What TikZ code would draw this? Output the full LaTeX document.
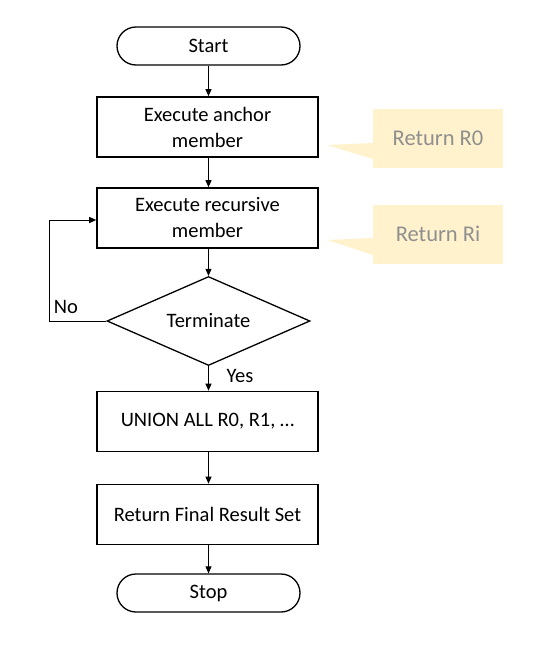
\documentclass[tikz,border=0pt]{standalone}
\usepackage{fontspec}
\setmainfont{Carlito}
\usetikzlibrary{arrows.meta,shapes.geometric}
\definecolor{callfill}{HTML}{FFF2CC}
\definecolor{calltext}{HTML}{8F8F8F}
\begin{document}
\begin{tikzpicture}[x=1pt,y=-1pt,
  font=\fontsize{20.5}{26}\selectfont,
  procbox/.style={draw=black,line width=1.6pt,minimum width=221pt,minimum height=60pt,align=center,inner sep=0pt},
  termbox/.style={draw=black,line width=1.3pt,rounded corners=19pt,minimum width=183pt,minimum height=38pt,inner sep=0pt},
  decbox/.style={draw=black,line width=1.3pt,diamond,aspect=2.28,minimum width=203pt,minimum height=89pt,inner sep=0pt},
  conn/.style={line width=0.9pt,-{Triangle[length=7pt,width=6pt]}},
  callout/.style={fill=callfill,text=calltext,font=\fontsize{22.5}{27}\selectfont,minimum width=130pt,minimum height=59pt,inner sep=0pt}]
\useasboundingbox (0,0) rectangle (538,646);
\node[termbox] (start) at (208.5,46) {Start};
\node[procbox] (anchor) at (207.5,127) {Execute anchor\\member};
\node[procbox] (rec) at (207.5,218) {Execute recursive\\member};
\node[decbox] (term) at (208.5,321) {Terminate};
\node[procbox] (union) at (207.5,421.5) {UNION ALL R0, R1, …};
\node[procbox] (final) at (207.5,514.5) {Return Final Result Set};
\node[termbox] (stop) at (208.5,593) {Stop};
\draw[conn] (start.south) -- (start.south |- anchor.north);
\draw[conn] (anchor.south -| start.south) -- (start.south |- rec.north);
\draw[conn] (rec.south -| term.north) -- (term.north);
\draw[conn] (term.south) -- (term.south |- union.north);
\draw[conn] (union.south -| term.south) -- (term.south |- final.north);
\draw[conn] (final.south -| stop.north) -- (stop.north);
\coordinate (lb) at (49,321);
\coordinate (lt) at (49,220);
\draw[conn] (term.west) -- (lb) -- (lt) -- (rec.west |- lt);
\node (no) at (66,307) {No};
\node (yes) at (240,376) {Yes};
\node[callout] (r0) at (438,138.5) {Return R0};
\fill[callfill] (327,145) -- (r0.west |- 0,143) -- (r0.west |- 0,159) -- cycle;
\node[callout] (ri) at (438,234) {Return Ri};
\fill[callfill] (327,240) -- (ri.west |- 0,238) -- (ri.west |- 0,255) -- cycle;
\end{tikzpicture}
\end{document}
